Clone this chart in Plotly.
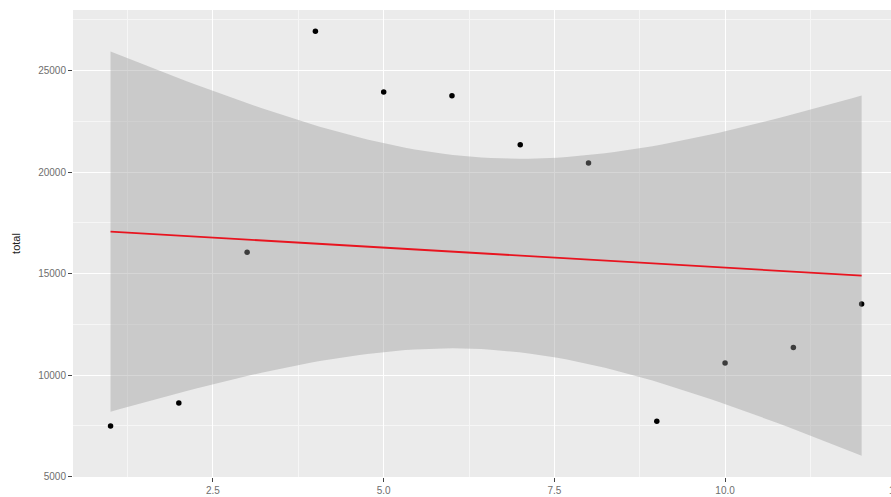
import numpy as np
import plotly.graph_objects as go

# ---- data ----
month = [1, 2, 3, 4, 5, 6, 7, 8, 9, 10, 11, 12]
total = [7500, 8630, 16046, 26935, 23939, 23757, 21350, 20451, 7730, 10593, 11364, 13506]

x_ticks = [2.5, 5.0, 7.5, 10.0, 12.5]
x_tick_labels = ["2.5", "5.0", "7.5", "10.0", "12.5"]
y_ticks = [5000, 10000, 15000, 20000, 25000]
y_tick_labels = ["5000", "10000", "15000", "20000", "25000"]

# ---- linear model fit with 95% CI (like geom_smooth(method = "lm")) ----
x = np.array(month, dtype=float)
y = np.array(total, dtype=float)
n = len(x)
xbar, ybar = x.mean(), y.mean()
sxx = ((x - xbar) ** 2).sum()
slope = ((x - xbar) * (y - ybar)).sum() / sxx
intercept = ybar - slope * xbar
resid = y - (intercept + slope * x)
s = np.sqrt((resid ** 2).sum() / (n - 2))
T975 = 2.2281388519649385  # qt(0.975, df = 10)

xs = np.linspace(x.min(), x.max(), 80)
fit = intercept + slope * xs
se = s * np.sqrt(1.0 / n + (xs - xbar) ** 2 / sxx)
lo = fit - T975 * se
hi = fit + T975 * se

# ggplot-style 5% expansion of scales
ymin = min(lo.min(), y.min())
ymax = max(hi.max(), y.max())
yr = ymax - ymin
y_range = [ymin - 0.05 * yr, ymax + 0.05 * yr]
xr = x.max() - x.min()
x_lo = x.min() - 0.05 * xr
x_range = [x_lo, 12.43]  # right side of panel is cropped in the reference

fig = go.Figure()

fig.add_trace(go.Scatter(
    x=month, y=total, mode="markers",
    marker=dict(color="black", size=5.5, line=dict(width=0)),
    showlegend=False, hoverinfo="skip",
))

fig.add_trace(go.Scatter(
    x=np.concatenate([xs, xs[::-1]]),
    y=np.concatenate([hi, lo[::-1]]),
    fill="toself", fillcolor="rgba(153,153,153,0.4)",
    line=dict(width=0), mode="lines", showlegend=False, hoverinfo="skip",
))

fig.add_trace(go.Scatter(
    x=xs, y=fit, mode="lines",
    line=dict(color="#E8141F", width=1.8),
    showlegend=False, hoverinfo="skip",
))

tick_font = dict(family="Liberation Sans, Arial, sans-serif", size=10, color="#6E6E6E")

fig.update_layout(
    width=891, height=497,
    margin=dict(l=73, r=0, t=10, b=20),
    paper_bgcolor="white",
    plot_bgcolor="#EBEBEB",
    font=tick_font,
    xaxis=dict(
        range=x_range,
        tickvals=x_ticks, ticktext=x_tick_labels,
        showgrid=True, gridcolor="white", gridwidth=1.1,
        minor=dict(tickvals=[1.25, 3.75, 6.25, 8.75, 11.25], showgrid=True,
                   gridcolor="#F6F6F6", gridwidth=0.6, ticklen=0),
        ticks="outside", ticklen=4, tickcolor="#444", tickwidth=0.8,
        zeroline=False, showline=False, tickfont=tick_font,
    ),
    yaxis=dict(
        range=y_range,
        tickvals=y_ticks, ticktext=y_tick_labels,
        showgrid=True, gridcolor="white", gridwidth=1.1,
        minor=dict(tickvals=[7500, 12500, 17500, 22500, 27500], showgrid=True,
                   gridcolor="#F6F6F6", gridwidth=0.6, ticklen=0),
        ticks="outside", ticklen=4, tickcolor="#444", tickwidth=0.8,
        zeroline=False, showline=False, tickfont=tick_font,
        title=dict(text="total", font=dict(family="Liberation Sans, Arial, sans-serif",
                                           size=11, color="#222"), standoff=15),
    ),
)

# partially visible "12.5" tick label at the cropped right edge
paper_x = (x_ticks[-1] - x_range[0]) / (x_range[1] - x_range[0])
fig.add_annotation(
    x=paper_x, xref="paper", xanchor="left", xshift=-9,
    y=0, yref="paper", yanchor="top", yshift=-6,
    text=x_tick_labels[-1], showarrow=False, font=tick_font,
)

fig.write_html("out.html")
